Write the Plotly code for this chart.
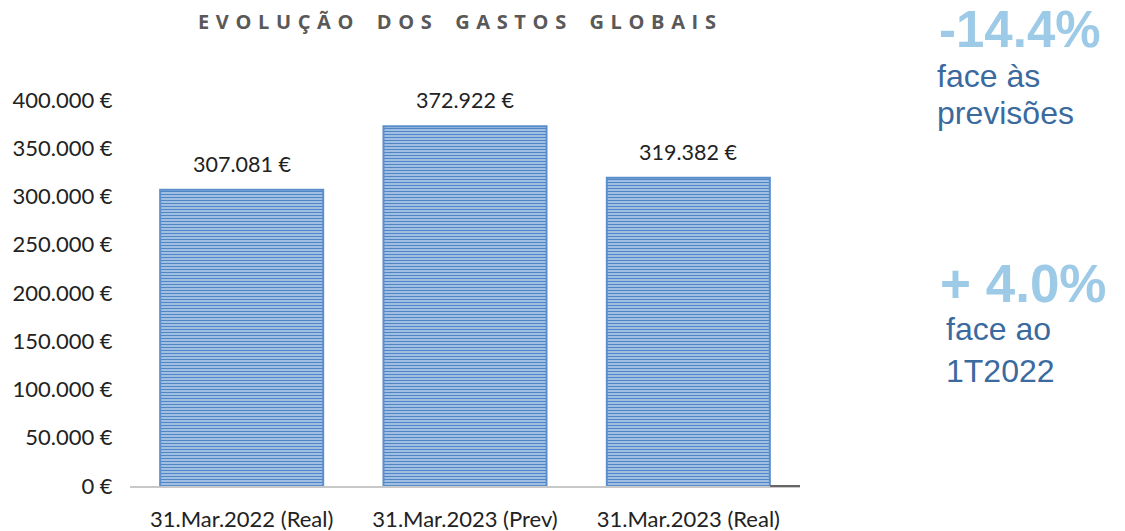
import plotly.graph_objects as go

categories = ["31.Mar.2022 (Real)", "31.Mar.2023 (Prev)", "31.Mar.2023 (Real)"]
values = [307081, 372922, 319382]
y_ticks = [0, 50000, 100000, 150000, 200000, 250000, 300000, 350000, 400000]


def euro(v):
    return f"{v:,.0f}".replace(",", ".") + " €"


title_text = "EVOLUÇÃO DOS GASTOS GLOBAIS"
gap = "\u2009\u2009"
spaced_title = "\u2003\u2009".join(gap.join(list(w)) for w in title_text.split(" "))

fig = go.Figure()
fig.add_trace(go.Bar(
    x=categories, y=values,
    width=0.73,
    marker=dict(
        color="#5B8FCB",
        line=dict(color="#5B8FCB", width=2),
        pattern=dict(shape="-", fillmode="replace", bgcolor="#C7DAF0",
                     fgcolor="#4F86C6", size=3, solidity=0.55),
    ),
    hoverinfo="skip",
))

for c, v in zip(categories, values):
    fig.add_annotation(x=c, y=v, text=euro(v), showarrow=False,
                       yanchor="bottom", yshift=11,
                       font=dict(family="Lato", size=21.5, color="#222222"))

fig.update_layout(
    width=1125, height=531,
    paper_bgcolor="white", plot_bgcolor="white",
    margin=dict(l=130, r=325, t=100, b=45),
    showlegend=False,
    xaxis=dict(
        automargin=False,
        showgrid=False, showline=True, linecolor="#C8C8C8", linewidth=2,
        ticks="outside", ticklen=13, tickcolor="rgba(0,0,0,0)",
        tickfont=dict(family="Lato", size=22, color="#222222"),
    ),
    yaxis=dict(
        automargin=False,
        range=[0, 400000], tickvals=y_ticks, ticktext=[euro(t) for t in y_ticks],
        showgrid=False, zeroline=False, showline=False,
        ticks="outside", ticklen=12, tickcolor="rgba(0,0,0,0)",
        tickfont=dict(family="Lato", size=22, color="#222222"),
    ),
)

# small dark dash at end of baseline
fig.add_shape(type="line", xref="paper", yref="paper", x0=(770 - 130) / 670, x1=(800 - 130) / 670,
              y0=0, y1=0, line=dict(color="#666666", width=2))

fig.add_annotation(text="<b>" + spaced_title + "</b>", xref="paper", yref="paper",
                   x=(457 - 130) / 670, y=1 + (100 - 22) / 386, showarrow=False,
                   xanchor="center", yanchor="middle",
                   font=dict(family="Open Sans", size=20, color="#595959"))


def py(px):
    return 1 + (100 - px) / 386


def px_x(px):
    return 1 + (px - 800) / 670


# Right side callouts
fig.add_annotation(text="<b>-14.4%</b>", xref="paper", yref="paper",
                   x=px_x(938), y=py(0), showarrow=False,
                   xanchor="left", yanchor="top", borderpad=0,
                   font=dict(family="Liberation Sans", size=51, color="#9DCAE6"))
fig.add_annotation(text="face às", xref="paper", yref="paper",
                   x=px_x(936), y=py(76), showarrow=False, borderpad=0,
                   xanchor="left", yanchor="middle", align="left",
                   font=dict(family="Liberation Sans", size=32, color="#3B6A9E"))
fig.add_annotation(text="previsões", xref="paper", yref="paper",
                   x=px_x(936), y=py(113), showarrow=False, borderpad=0,
                   xanchor="left", yanchor="middle", align="left",
                   font=dict(family="Liberation Sans", size=32, color="#3B6A9E"))
fig.add_annotation(text="<b>+ 4.0%</b>", xref="paper", yref="paper",
                   x=px_x(938), y=py(283), showarrow=False,
                   xanchor="left", yanchor="middle",
                   font=dict(family="Liberation Sans", size=53, color="#9DCAE6"))
fig.add_annotation(text="face ao<br>1T2022", xref="paper", yref="paper",
                   x=px_x(944), y=py(350), showarrow=False,
                   xanchor="left", yanchor="middle", align="left",
                   font=dict(family="Liberation Sans", size=32, color="#3B6A9E"))

fig.write_html("out.html", config={"displayModeBar": False},
               post_script="document.body.style.margin='0';")
